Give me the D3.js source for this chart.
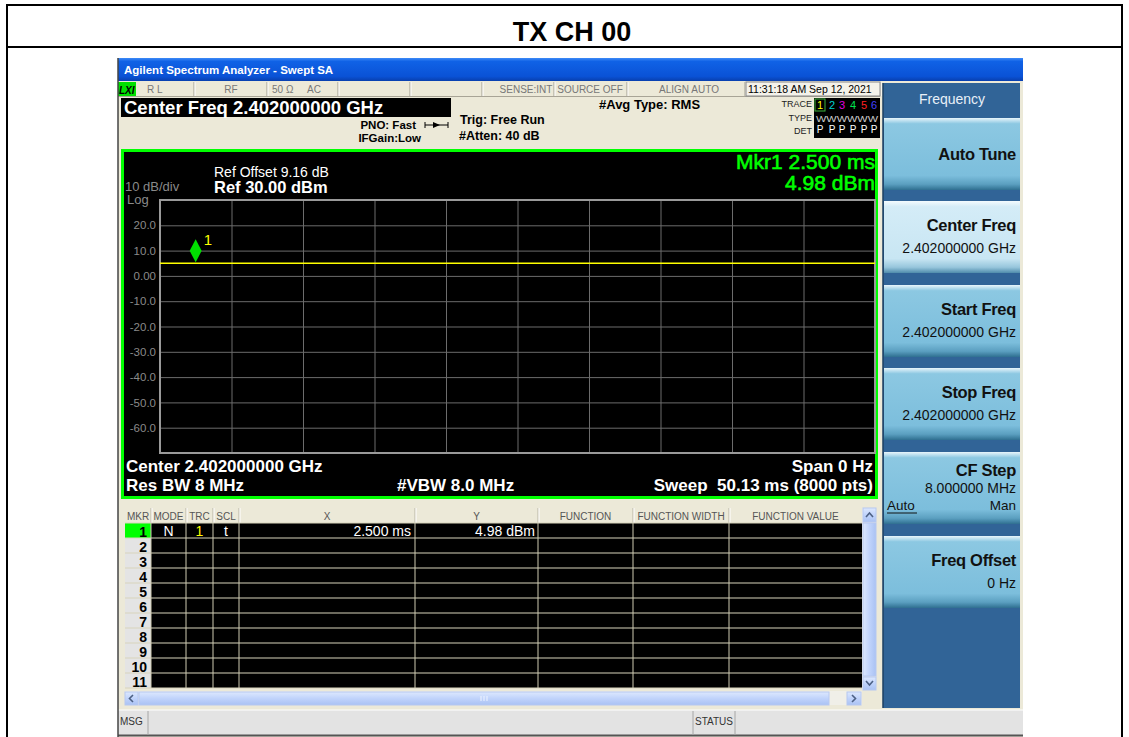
<!DOCTYPE html>
<html><head><meta charset="utf-8">
<script src="https://cdn.jsdelivr.net/npm/d3@7"></script>
<style>html,body{margin:0;padding:0;background:#fff;}svg{display:block;}</style>
</head><body>
<svg id="c" width="1129" height="737"></svg>
<script>
// ---------------- data ----------------
const pageTitle = "TX CH 00";
const windowTitle = "Agilent Spectrum Analyzer - Swept SA";
const centerFreqText = "Center Freq 2.402000000 GHz";
const refLevel = [30];            // dBm (top of grid)
const dbPerDiv = [10];
const numDivs = [10];
const sweepTimeMs = [50.13];
const yTickValues = [20, 10, 0, -10, -20, -30, -40, -50, -60];
const yTickLabels = ["20.0", "10.0", "0.00", "-10.0", "-20.0", "-30.0", "-40.0", "-50.0", "-60.0"];
const traceTimes = [0, 5, 10, 15, 20, 25, 30, 35, 40, 45, 50.13];
const traceLevels = [4.98, 4.98, 4.98, 4.98, 4.98, 4.98, 4.98, 4.98, 4.98, 4.98, 4.98];
const markerTimes = [2.5];
const markerLevels = [4.98];
const markerLabels = ["1"];
const statusCells = ["R L", "RF", "50 Ω", "AC", "SENSE:INT", "SOURCE OFF", "ALIGN AUTO"];
const timeStamp = "11:31:18 AM Sep 12, 2021";
const tableHeaders = ["MKR", "MODE", "TRC", "SCL", "X", "Y", "FUNCTION", "FUNCTION WIDTH", "FUNCTION VALUE"];
const markerNumbers = [1, 2, 3, 4, 5, 6, 7, 8, 9, 10, 11];
const mkrMode = ["N"];
const mkrTrace = ["1"];
const mkrScale = ["t"];
const mkrX = ["2.500 ms"];
const mkrY = ["4.98 dBm"];
const softkeyTitles = ["Auto Tune", "Center Freq", "Start Freq", "Stop Freq", "CF Step", "Freq Offset"];
const softkeyValues = ["", "2.402000000 GHz", "2.402000000 GHz", "2.402000000 GHz", "8.000000 MHz", "0 Hz"];
const traceColors = ["#ffff00", "#00d0d0", "#e000e0", "#00e050", "#ff2020", "#4040ff"];

// ---------------- helpers ----------------
const FONT = '"Liberation Sans", Arial, Helvetica, sans-serif';
const svg = d3.select("#c").attr("font-family", FONT);
function T(g, x, y, s, o = {}) {
  return g.append("text").attr("x", x).attr("y", y).text(s)
    .attr("font-size", o.size || 12).attr("font-weight", o.bold ? "bold" : "normal")
    .attr("font-style", o.italic ? "italic" : "normal")
    .attr("fill", o.fill || "#000").attr("text-anchor", o.anchor || "start");
}
function R(g, x, y, w, h, fill, stroke, sw) {
  const r = g.append("rect").attr("x", x).attr("y", y).attr("width", w).attr("height", h).attr("fill", fill || "none");
  if (stroke) r.attr("stroke", stroke).attr("stroke-width", sw || 1);
  return r;
}
function L(g, x1, y1, x2, y2, c, w) {
  return g.append("line").attr("x1", x1).attr("y1", y1).attr("x2", x2).attr("y2", y2).attr("stroke", c).attr("stroke-width", w || 1);
}
const defs = svg.append("defs");
function vgrad(id, stops) {
  const g = defs.append("linearGradient").attr("id", id).attr("x1", 0).attr("y1", 0).attr("x2", 0).attr("y2", 1);
  stops.forEach(s => g.append("stop").attr("offset", s[0]).attr("stop-color", s[1]));
}
vgrad("gTitle", [[0, "#3d8af7"], [0.15, "#1062e6"], [0.8, "#0a52d6"], [1, "#083fae"]]);
vgrad("gKey", [[0, "#e8f5fb"], [0.08, "#8cc8e2"], [0.8, "#7cbedc"], [0.92, "#5b9fc0"], [1, "#2f6f90"]]);
vgrad("gKeySel", [[0, "#f4fbfe"], [0.08, "#d4ecf7"], [0.8, "#c8e6f3"], [0.92, "#97c6dc"], [1, "#4f8cab"]]);
vgrad("gScroll", [[0, "#dde8fe"], [0.5, "#c0d3fb"], [1, "#aac2f3"]]);
const hg = defs.append("linearGradient").attr("id", "gScrollV").attr("x1", 0).attr("y1", 0).attr("x2", 1).attr("y2", 0);
[[0, "#dde8fe"], [0.5, "#c0d3fb"], [1, "#aac2f3"]].forEach(s => hg.append("stop").attr("offset", s[0]).attr("stop-color", s[1]));

// ---------------- page frame ----------------
R(svg, 0, 0, 1129, 737, "#fff");
L(svg, 6, 5, 1123, 5, "#000", 2);
L(svg, 6, 47, 1123, 47, "#000", 2);
L(svg, 7, 4, 7, 737, "#000", 2);
L(svg, 1122, 4, 1122, 737, "#000", 2);
T(svg, 572, 41, pageTitle, { size: 27, bold: true, anchor: "middle" });

// ---------------- instrument window ----------------
const win = svg.append("g");
R(win, 118, 58, 905, 679, "#ece9d8");
R(win, 118, 58, 905, 23, "url(#gTitle)");
T(win, 124, 74, windowTitle, { size: 11.5, bold: true, fill: "#fff" });

// status row
const st = win.append("g");
R(st, 118, 82, 762, 14, "#ece9d8");
L(st, 118, 96.5, 880, 96.5, "#a8a496", 1);
R(st, 118, 82, 18, 14, "#00e000");
T(st, 119, 94, "LXI", { size: 10, bold: true, italic: true });
const sepX = [194, 267, 338, 410, 482, 554, 627, 745, 880];
sepX.forEach(x => { L(st, x, 82, x, 96, "#a09c90", 1); L(st, x + 1, 82, x + 1, 96, "#fff", 1); });
const stPos = [[147, "start"], [231, "middle"], [272, "start"], [314, "middle"], [526, "middle"], [590, "middle"], [689, "middle"]];
statusCells.forEach((s, i) => T(st, stPos[i][0], 93, s, { size: 10, fill: "#777", anchor: stPos[i][1] }));
R(st, 746, 82, 134, 14, "#f4f2ea", "#888", 1);
T(st, 748, 93, timeStamp, { size: 10.5, fill: "#000" });

// header info
R(win, 121, 98, 330, 19, "#000");
T(win, 124, 113.5, centerFreqText, { size: 18.5, bold: true, fill: "#fff" });
T(win, 416, 129, "PNO: Fast", { size: 11.5, bold: true, anchor: "end" });
T(win, 421, 142, "IFGain:Low", { size: 11.5, bold: true, anchor: "end" });
// trig arrow
L(win, 425, 125, 448, 125, "#000", 1);
L(win, 425, 122, 425, 128, "#000", 1); L(win, 448, 122, 448, 128, "#000", 1);
win.append("path").attr("d", "M433,122 L440,125 L433,128 Z").attr("fill", "#000");
T(win, 460, 124, "Trig: Free Run", { size: 12.5, bold: true });
T(win, 459, 140, "#Atten: 40 dB", { size: 12.5, bold: true });
T(win, 599, 109, "#Avg Type: RMS", { size: 13, bold: true });
// trace box
T(win, 812, 107, "TRACE", { size: 9, anchor: "end", fill: "#222" });
T(win, 812, 121, "TYPE", { size: 9, anchor: "end", fill: "#222" });
T(win, 812, 134, "DET", { size: 9, anchor: "end", fill: "#222" });
R(win, 814, 98, 66, 40, "#000");
const digX = [819, 831, 841, 852, 863, 873];
R(win, 815, 99, 10, 12, "none", "#3cb33c", 1);
traceColors.forEach((c, i) => {
  T(win, digX[i] + 1, 109, String(i + 1), { size: 11, fill: c, anchor: "middle" });
  T(win, digX[i] + 1, 133, "P", { size: 10, fill: "#fff", anchor: "middle" });
});
T(win, 816, 122, "WWWWWW", { size: 8.5, fill: "#ccc" }).attr("textLength", 62).attr("lengthAdjust", "spacingAndGlyphs");

// ---------------- plot ----------------
const plot = win.append("g");
R(plot, 122.5, 150.5, 754, 347, "#000", "#00ff00", 3);
const gx0 = 160, gx1 = 875, gy0 = 200, gy1 = 453;
const x = d3.scaleLinear().domain([0, sweepTimeMs[0]]).range([gx0, gx1]);
const y = d3.scaleLinear().domain([refLevel[0] - numDivs[0] * dbPerDiv[0], refLevel[0]]).range([gy1, gy0]);
const xDivs = d3.range(numDivs[0] + 1).map(i => i * sweepTimeMs[0] / numDivs[0]);
const yDivs = d3.range(numDivs[0] + 1).map(i => refLevel[0] - i * dbPerDiv[0]);
// grid via axes
const gridY = plot.append("g").attr("transform", `translate(${gx0},0)`)
  .call(d3.axisLeft(y).tickValues(yDivs).tickSize(-(gx1 - gx0)).tickFormat(""));
gridY.selectAll("line").attr("stroke", "#6c6c6c");
gridY.select(".domain").remove();
const gridX = plot.append("g").attr("transform", `translate(0,${gy1})`)
  .call(d3.axisBottom(x).tickValues(xDivs).tickSize(-(gy1 - gy0)).tickFormat(""));
gridX.selectAll("line").attr("stroke", "#6c6c6c");
gridX.select(".domain").remove();
R(plot, gx0, gy0, gx1 - gx0, gy1 - gy0, "none", "#9a9a9a", 2);
// y labels
const yAx = plot.append("g").attr("transform", `translate(${gx0 - 4},0)`)
  .call(d3.axisLeft(y).tickValues(yTickValues).tickSize(0).tickPadding(0)
    .tickFormat((d, i) => yTickLabels[i]));
yAx.select(".domain").remove();
yAx.selectAll("text").attr("fill", "#8a8a8a").attr("font-size", 11.5).attr("font-family", FONT);
// trace
const line = d3.line().x((d, i) => x(traceTimes[i])).y(d => y(d));
plot.append("path").datum(traceLevels).attr("d", line).attr("fill", "none").attr("stroke", "#ffff00").attr("stroke-width", 1.6);
// marker
markerTimes.forEach((t, i) => {
  const mx = x(t), my = y(markerLevels[i]);
  plot.append("path").attr("d", `M${mx},${my - 24} L${mx + 6},${my - 12.5} L${mx},${my - 1} L${mx - 6},${my - 12.5} Z`).attr("fill", "#00e000");
  T(plot, mx + 8, my - 18, markerLabels[i], { size: 15, fill: "#ffff00" });
});
// annotations
T(plot, 214, 177, "Ref Offset 9.16 dB", { size: 14, fill: "#fff" });
T(plot, 214, 193, `Ref ${refLevel[0].toFixed(2)} dBm`, { size: 16.5, bold: true, fill: "#fff" });
T(plot, 125, 191, `${dbPerDiv[0]} dB/div`, { size: 13, fill: "#8a8a8a" });
T(plot, 127, 204, "Log", { size: 13, fill: "#8a8a8a" });
T(plot, 875, 169, `Mkr1 ${markerTimes[0].toFixed(3)} ms`, { size: 21, fill: "#00ff00", anchor: "end" })
  .attr("stroke", "#00ff00").attr("stroke-width", 0.6);
T(plot, 875, 190, `${markerLevels[0].toFixed(2)} dBm`, { size: 21, fill: "#00ff00", anchor: "end" })
  .attr("stroke", "#00ff00").attr("stroke-width", 0.6);
T(plot, 126, 472, "Center 2.402000000 GHz", { size: 17, bold: true, fill: "#fff" });
T(plot, 126, 491, "Res BW 8 MHz", { size: 17, bold: true, fill: "#fff" });
T(plot, 397, 491, "#VBW 8.0 MHz", { size: 17, bold: true, fill: "#fff" });
T(plot, 873, 472, "Span 0 Hz", { size: 17, bold: true, fill: "#fff", anchor: "end" });
T(plot, 873, 491, `Sweep  ${sweepTimeMs[0].toFixed(2)} ms (8000 pts)`, { size: 17, bold: true, fill: "#fff", anchor: "end" }).style("white-space", "pre");

// ---------------- marker table ----------------
const tb = win.append("g");
const colE = [125, 151, 186, 213, 239, 415, 538, 633, 729, 862];
const hdrY = 508, rowY0 = 523, rowH = 15, nRows = markerNumbers.length;
R(tb, 124, 506, 753, 200, "#ece9d8");
R(tb, colE[0], hdrY, colE[9] - colE[0], 15, "#ece9d8");
tableHeaders.forEach((h, i) => {
  T(tb, (colE[i] + colE[i + 1]) / 2, hdrY + 12, h, { size: 10, fill: "#555", anchor: "middle" });
  if (i > 0) { L(tb, colE[i], hdrY, colE[i], hdrY + 15, "#b8b4a4"); L(tb, colE[i] + 1, hdrY, colE[i] + 1, hdrY + 15, "#fff"); }
});
R(tb, colE[1], rowY0, colE[9] - colE[1], rowH * nRows, "#000");
R(tb, colE[0], rowY0, colE[1] - colE[0], rowH * nRows, "#e4e4e4");
R(tb, colE[0], rowY0, colE[1] - colE[0], rowH, "#00ff00");
for (let r = 1; r <= nRows; r++) L(tb, colE[0], rowY0 + r * rowH, colE[9], rowY0 + r * rowH, "#d8d4bc", 1);
L(tb, colE[0], rowY0, colE[9], rowY0, "#d8d4bc", 1);
colE.slice(1, 9).forEach(cx => L(tb, cx, rowY0, cx, rowY0 + rowH * nRows, "#cfcbb2", 1));
markerNumbers.forEach((n, r) => T(tb, colE[1] - 4, rowY0 + (r + 1) * rowH - 1, String(n), { size: 14, bold: true, anchor: "end" }));
mkrMode.forEach((m, r) => {
  const by = rowY0 + (r + 1) * rowH - 2;
  T(tb, (colE[1] + colE[2]) / 2, by, m, { size: 14, fill: "#fff", anchor: "middle" });
  T(tb, (colE[2] + colE[3]) / 2, by, mkrTrace[r], { size: 14, fill: traceColors[0], anchor: "middle" });
  T(tb, (colE[3] + colE[4]) / 2, by, mkrScale[r], { size: 14, fill: "#fff", anchor: "middle" });
  T(tb, colE[5] - 4, by, mkrX[r], { size: 14, fill: "#fff", anchor: "end" });
  T(tb, colE[6] - 3, by, mkrY[r], { size: 14, fill: "#fff", anchor: "end" });
});
// vertical scrollbar
R(tb, 862, 508, 14, 182, "#f0efe8");
R(tb, 863, 523, 13, 153, "url(#gScrollV)", "#b6c8f0", 1);
R(tb, 863, 508, 13, 14, "url(#gScroll)", "#b6c8f0", 1);
R(tb, 863, 677, 13, 13, "url(#gScroll)", "#b6c8f0", 1);
tb.append("path").attr("d", "M866,517 L869.5,513 L873,517").attr("fill", "none").attr("stroke", "#4d6185").attr("stroke-width", 1.6);
tb.append("path").attr("d", "M866,681 L869.5,685 L873,681").attr("fill", "none").attr("stroke", "#4d6185").attr("stroke-width", 1.6);
// horizontal scrollbar
R(tb, 125, 691, 737, 14, "#f0efe8");
R(tb, 139, 692, 690, 13, "url(#gScroll)", "#b6c8f0", 1);
R(tb, 125, 692, 13, 13, "url(#gScroll)", "#b6c8f0", 1);
R(tb, 847, 692, 14, 13, "url(#gScroll)", "#b6c8f0", 1);
tb.append("path").attr("d", "M133,695 L129.5,698.5 L133,702").attr("fill", "none").attr("stroke", "#4d6185").attr("stroke-width", 1.6);
tb.append("path").attr("d", "M852,695 L855.5,698.5 L852,702").attr("fill", "none").attr("stroke", "#4d6185").attr("stroke-width", 1.6);
[481, 484, 487].forEach(gx => L(tb, gx, 696, gx, 701, "#eef3ff", 1));

// ---------------- status bar ----------------
const sb = win.append("g");
R(sb, 118, 710, 905, 25, "#e3e3e3");
L(sb, 118, 710, 1023, 710, "#fff", 1);
L(sb, 118, 735.5, 1023, 735.5, "#555", 2);
L(sb, 148, 711, 148, 735, "#a6a6a6", 1);
L(sb, 693, 711, 693, 735, "#a6a6a6", 1);
L(sb, 735, 711, 735, 735, "#a6a6a6", 1);
T(sb, 120, 725, "MSG", { size: 10, fill: "#333" });
T(sb, 714, 725, "STATUS", { size: 10, fill: "#333", anchor: "middle" });
L(win, 118, 58, 118, 737, "#444", 1.5);

// ---------------- softkey panel ----------------
const sk = win.append("g");
R(sk, 883, 83, 137, 625, "#316497");
L(sk, 883, 83, 883, 708, "#1d3f62", 1.5);
T(sk, 952, 104, "Frequency", { size: 14, fill: "#e8f0f8", anchor: "middle" });
const keyTops = [118, 201, 285, 368, 452, 536];
softkeyTitles.forEach((t, i) => {
  const ky = keyTops[i];
  R(sk, 884, ky, 136, 72, i === 1 ? "url(#gKeySel)" : "url(#gKey)");
  const valueLine = softkeyValues[i] !== "";
  const tyy = i === 0 ? ky + 42 : (i === 4 ? ky + 24 : ky + 30);
  T(sk, 1016, tyy, t, { size: 16.5, bold: true, anchor: "end", fill: "#111" }).attr("letter-spacing", -0.3);
  if (valueLine) T(sk, 1016, tyy + (i === 4 ? 17 : 22), softkeyValues[i], { size: 14, anchor: "end", fill: "#111" });
  if (i === 4) {
    T(sk, 887, ky + 58, "Auto", { size: 13.5, fill: "#111" });
    L(sk, 887, ky + 61, 917, ky + 61, "#111", 1);
    T(sk, 1016, ky + 58, "Man", { size: 13.5, anchor: "end", fill: "#111" });
  }
});
</script>
</body></html>
